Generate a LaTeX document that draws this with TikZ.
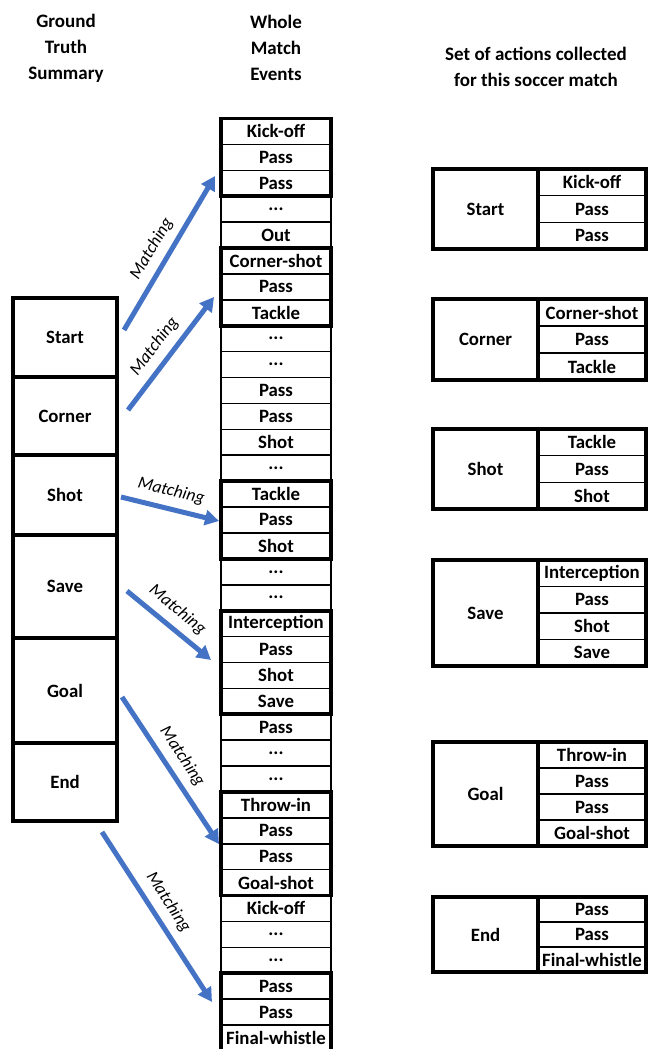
\documentclass[tikz,border=0pt]{standalone}
\usepackage{fontspec}
\setmainfont{Carlito}
\usetikzlibrary{arrows.meta}
\definecolor{arrowblue}{RGB}{68,114,196}
\newcommand\dotsx{...}
\newcommand\actionset[6]{%
  \pgfmathsetmacro\ah{(#3-#2)/#5}
  \node[setlab, minimum height={#3-#2}] (#1) at (485.5,{(#2+#3)/2}) {#4};
  \foreach \t [count=\k] in {#6} {
    \node[setrow, minimum height=\ah] (#1-\k) at (592,{#2+(\k-0.5)*\ah}) {\t};
  }
  \draw[grp] (#1.north west) rectangle (#1-#5.south east);
  \draw[grp] (#1.north east) -- (#1.south east);
}
\begin{document}
\begin{tikzpicture}[x=1pt,y=-1pt,
  txt/.style={font=\bfseries\fontsize{18.8}{22}\selectfont, inner sep=0pt, outer sep=0pt},
  cell/.style={txt, draw, line width=1.6pt, minimum width=110pt, minimum height=25.9pt},
  grp/.style={line width=3.8pt},
  gts/.style={txt, draw, line width=4.2pt, minimum width=104pt},
  setlab/.style={txt, draw, line width=1.6pt, minimum width=105pt},
  setrow/.style={txt, draw, line width=1.6pt, minimum width=108pt},
  match/.style={-{Triangle[length=14pt,width=15pt]}, line width=5pt, draw=arrowblue},
  mlabel/.style={font=\itshape\fontsize{17.5}{20}\selectfont, sloped, above=4pt, pos=0.47, text=black},
  title/.style={font=\bfseries\fontsize{19}{26}\selectfont, align=center, inner sep=0pt}
]
\fill[white] (0,0) rectangle (648,1049);
\useasboundingbox (0,0) rectangle (648,1049);
\clip (0,0) rectangle (648,1049);

% titles
\node[title] (t1) at (66,48) {Ground\\Truth\\Summary};
\node[title] (t2) at (276,48) {Whole\\Match\\Events};
\node[title] (t3) at (536,67) {Set of actions collected\\for this soccer match};

% middle column
\foreach \t [count=\i] in {Kick-off,Pass,Pass,\dotsx,Out,Corner-shot,Pass,Tackle,\dotsx,\dotsx,Pass,Pass,Shot,\dotsx,Tackle,Pass,Shot,\dotsx,\dotsx,Interception,Pass,Shot,Save,Pass,\dotsx,\dotsx,Throw-in,Pass,Pass,Goal-shot,Kick-off,\dotsx,\dotsx,Pass,Pass,Final-whistle}{
  \node[cell] (m\i) at (276,{118.5+(\i-0.5)*25.9}) {\t};
}
\draw[grp] (m1.north west) rectangle (m3.south east);
\draw[grp] (m6.north west) rectangle (m8.south east);
\draw[grp] (m15.north west) rectangle (m17.south east);
\draw[grp] (m20.north west) rectangle (m23.south east);
\draw[grp] (m27.north west) rectangle (m30.south east);
\draw[grp] (m34.north west) rectangle (m36.south east);

% left column
\node[gts, minimum height=79pt] (gStart) at (65,337.5) {Start};
\node[gts, minimum height=78pt] (gCorner) at (65,416) {Corner};
\node[gts, minimum height=80pt] (gShot) at (65,495) {Shot};
\node[gts, minimum height=103pt] (gSave) at (65,586.5) {Save};
\node[gts, minimum height=105pt] (gGoal) at (65,690.5) {Goal};
\node[gts, minimum height=78pt] (gEnd) at (65,782) {End};

% right column
\actionset{sStart}{169}{249}{Start}{3}{Kick-off,Pass,Pass}
\actionset{sCorner}{299}{380}{Corner}{3}{Corner-shot,Pass,Tackle}
\actionset{sShot}{429}{509}{Shot}{3}{Tackle,Pass,Shot}
\actionset{sSave}{560}{666}{Save}{4}{Interception,Pass,Shot,Save}
\actionset{sGoal}{742}{846}{Goal}{4}{Throw-in,Pass,Pass,Goal-shot}
\actionset{sEnd}{897}{972}{End}{3}{Pass,Pass,Final-whistle}

% arrows
\coordinate (a1s) at (124,330); \coordinate (a1e) at (215,176);
\coordinate (a2s) at (128,410); \coordinate (a2e) at (214,297);
\coordinate (a3s) at (121,497); \coordinate (a3e) at (219,521);
\coordinate (a4s) at (127,591); \coordinate (a4e) at (211,660);
\coordinate (a5s) at (122,697); \coordinate (a5e) at (219,844);
\coordinate (a6s) at (102,832); \coordinate (a6e) at (212,1002);
\draw[match] (a1s) -- node[mlabel] (l1) {Matching} (a1e);
\draw[match] (a2s) -- node[mlabel] (l2) {Matching} (a2e);
\draw[match] (a3s) -- node[mlabel] (l3) {Matching} (a3e);
\draw[match] (a4s) -- node[mlabel] (l4) {Matching} (a4e);
\draw[match] (a5s) -- node[mlabel] (l5) {Matching} (a5e);
\draw[match] (a6s) -- node[mlabel] (l6) {Matching} (a6e);
\end{tikzpicture}
\end{document}
